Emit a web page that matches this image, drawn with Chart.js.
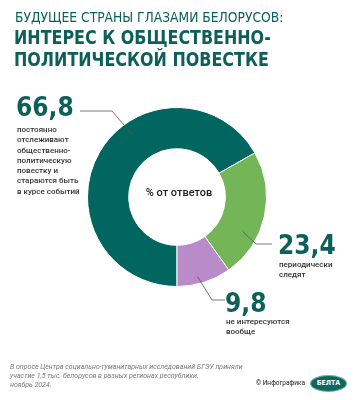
<!DOCTYPE html>
<html>
<head>
<meta charset="utf-8">
<script src="https://cdn.jsdelivr.net/npm/chart.js@4.4.0/dist/chart.umd.min.js"></script>
<style>
  html, body { margin: 0; padding: 0; background: #fff; }
  #wrap { position: relative; width: 358px; height: 400px; overflow: hidden; font-family: "DejaVu Sans Condensed", "DejaVu Sans", sans-serif; }
  #chart { position: absolute; left: 0; top: 0; }
  .title1 { position: absolute; left: 15px; top: 9px; font-size: 13.7px; color: #0d5f5a; white-space: nowrap; }
  .title2 { position: absolute; left: 14px; font-size: 20px; font-weight: bold; color: #0d5f5a; white-space: nowrap; transform: scaleX(0.885); transform-origin: left top; }
  .val { position: absolute; font-size: 26px; font-weight: bold; color: #0d5f5a; line-height: 26px; white-space: nowrap; }
  .desc { position: absolute; font-family: Roboto, sans-serif; font-size: 8px; line-height: 10.3px; color: #333; font-weight: 500; white-space: nowrap; }
  .center { position: absolute; left: 137px; top: 186px; width: 84px; text-align: center; font-family: Roboto, sans-serif; font-size: 11px; font-weight: 500; color: #222; }
  .note { position: absolute; left: 10px; top: 363px; font-family: Roboto, sans-serif; font-style: italic; font-size: 7px; line-height: 9px; color: #777; }
  .copy { position: absolute; left: 256px; top: 379px; font-family: Roboto, sans-serif; font-size: 7px; color: #222; white-space: nowrap; transform: scaleX(0.93); transform-origin: left top; }
  .logo { position: absolute; left: 310px; top: 375px; width: 35px; height: 15px; border-radius: 50%; background: #0b6a60; border: 1px solid #7fb0a8; color: #fff; font-family: "DejaVu Sans Condensed", sans-serif; font-size: 7px; font-weight: bold; line-height: 15px; text-align: center; }
</style>
</head>
<body>
<div id="wrap">
  <canvas id="chart" width="358" height="400"></canvas>
  <div class="title1">БУДУЩЕЕ СТРАНЫ ГЛАЗАМИ БЕЛОРУСОВ:</div>
  <div class="title2" style="top:25px">ИНТЕРЕС К ОБЩЕСТВЕННО-</div>
  <div class="title2" style="top:47px">ПОЛИТИЧЕСКОЙ ПОВЕСТКЕ</div>
  <div class="center">% от ответов</div>
  <div class="note">В опросе Центра социально-гуманитарных исследований БГЭУ приняли<br>участие 1,5 тыс. белорусов в разных регионах республики,<br>ноябрь 2024.</div>
  <div class="copy">© Инфографика</div>
  <div class="logo">БЕЛТА</div>
</div>
<script>
// Survey answers, % of respondents
const categories = [
  ['постоянно', 'отслеживают', 'общественно-', 'политическую', 'повестку и', 'стараются быть', 'в курсе событий'],
  ['периодически', 'следят'],
  ['не интересуются', 'вообще']
];
const shares = [66.8, 23.4, 9.8];
const sliceColors = ['#00665f', '#73b557', '#b98bc9'];

// where each value label sits, and where its leader line bends / ends
const labelLayout = [
  { left: 16, top: 94, descTop: 125, at: 0.6, r: 0.86, elbow: [112, 111], end: [80, 111] },
  { left: 278, top: 232, descTop: 260, at: 0.68, r: 0.83, elbow: [256, 244], end: [272, 244] },
  { left: 225, top: 290, descTop: 317, at: 0.59, r: 0.92, elbow: [212, 300], end: [225, 300] }
];

const wrap = document.getElementById('wrap');
shares.forEach((v, i) => {
  const p = labelLayout[i];
  const val = document.createElement('div');
  val.className = 'val';
  val.style.left = p.left + 'px';
  val.style.top = p.top + 'px';
  val.textContent = v.toLocaleString('ru-RU');
  wrap.appendChild(val);
  const desc = document.createElement('div');
  desc.className = 'desc';
  desc.style.left = (p.left + 1) + 'px';
  desc.style.top = p.descTop + 'px';
  desc.innerHTML = categories[i].join('<br>');
  wrap.appendChild(desc);
});

// Leader lines from the ring to the labels
const leaderLines = {
  id: 'leaderLines',
  afterDatasetsDraw(chart) {
    const ctx = chart.ctx;
    const arcs = chart.getDatasetMeta(0).data;
    ctx.save();
    ctx.strokeStyle = '#555';
    ctx.lineWidth = 0.8;
    arcs.forEach((arc, i) => {
      const p = labelLayout[i];
      const a = arc.getProps(['x', 'y', 'startAngle', 'endAngle', 'outerRadius'], true);
      const ang = a.startAngle + (a.endAngle - a.startAngle) * p.at;
      const rad = a.outerRadius * p.r;
      ctx.beginPath();
      ctx.moveTo(a.x + Math.cos(ang) * rad, a.y + Math.sin(ang) * rad);
      ctx.lineTo(p.elbow[0], p.elbow[1]);
      ctx.lineTo(p.end[0], p.end[1]);
      ctx.stroke();
    });
    ctx.restore();
  }
};

new Chart(document.getElementById('chart'), {
  type: 'doughnut',
  data: {
    labels: categories.map(c => c.join(' ')),
    datasets: [{
      data: shares,
      backgroundColor: sliceColors,
      borderColor: '#fff',
      borderWidth: 1
    }]
  },
  options: {
    responsive: false,
    animation: false,
    rotation: 180,
    cutout: '54%',
    layout: { padding: { left: 87, right: 91, top: 107, bottom: 113 } },
    plugins: {
      legend: { display: false },
      tooltip: { enabled: false }
    }
  },
  plugins: [leaderLines]
});
</script>
</body>
</html>
